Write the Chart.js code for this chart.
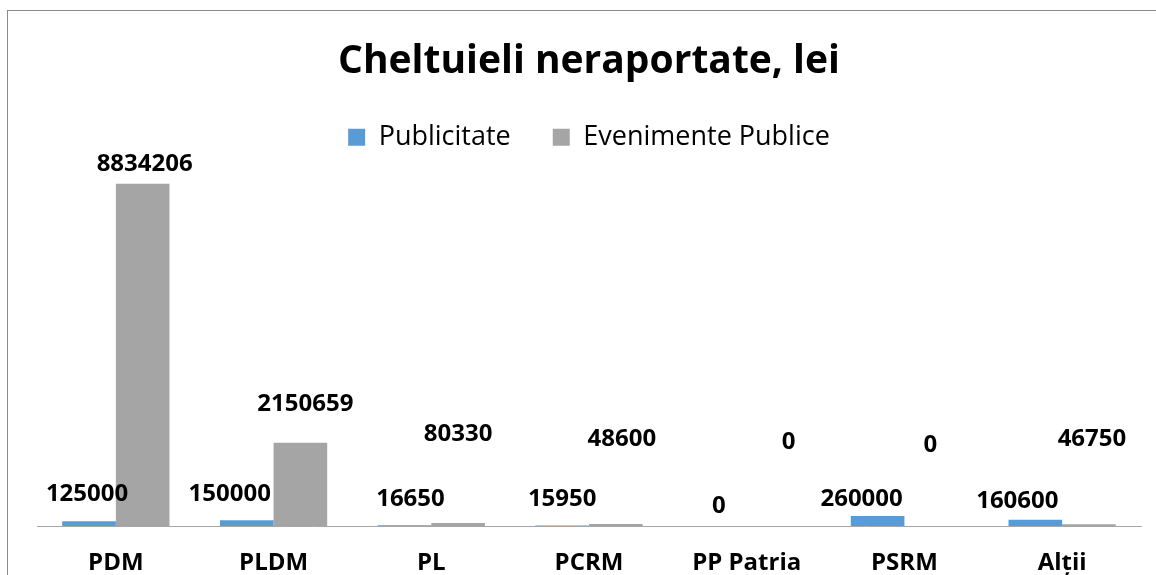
<!DOCTYPE html>
<html>
<head>
<meta charset="utf-8">
<script src="https://cdn.jsdelivr.net/npm/chart.js@4"></script>
<style>
    body { margin: 0; background: #fff; }
    #wrap { position: relative; width: 1156px; height: 575px; }
    #frame { position: absolute; left: 7px; top: 10px; right: -5px; bottom: -5px; border-left: 1px solid #8a8a8a; border-top: 1px solid #8a8a8a; }
    canvas { position: absolute; left: 0; top: 0; }
</style>
</head>
<body>
<div id="wrap">
    <div id="frame"></div>
    <canvas id="chart1" width="1156" height="575"></canvas>
</div>
<script>
const categories = ['PDM', 'PLDM', 'PL', 'PCRM', 'PP Patria', 'PSRM', 'Alții']
const publicitate = [125000, 150000, 16650, 15950, 0, 260000, 160600]
const evenimente = [8834206, 2150659, 80330, 48600, 0, 0, 46750]

// labels were moved by hand in the original, so keep their nudges (px) here
const labelNudge = [
    { dx: [-2, -17, 6, 0, -1, -16, -18], dy: [-27, -26, -26, -26, -20, -17, -19] },
    { dx: [2, 5, 0, 6, 15, -1, 3], dy: [-20, -39, -89, -85, -84, -81, -85] }
]

const font = "'Open Sans', 'DejaVu Sans', sans-serif"

const valueLabels = {
    id: 'valueLabels',
    afterDatasetsDraw(chart) {
        const ctx = chart.ctx
        ctx.save()
        ctx.font = 'bold 24px ' + font
        ctx.fillStyle = '#000'
        ctx.textAlign = 'center'
        ctx.textBaseline = 'middle'
        chart.data.datasets.forEach((ds, i) => {
            chart.getDatasetMeta(i).data.forEach((bar, j) => {
                const n = labelNudge[i]
                ctx.fillText(String(ds.data[j]), bar.x + n.dx[j], bar.y + n.dy[j])
            })
        })
        ctx.restore()
    }
}

const data = {
    labels: categories,
    datasets: [
        {
            label: 'Publicitate',
            data: publicitate,
            backgroundColor: '#5B9BD5',
            barPercentage: 1,
            categoryPercentage: 0.68
        },
        {
            label: 'Evenimente Publice',
            data: evenimente,
            backgroundColor: '#A5A5A5',
            barPercentage: 1,
            categoryPercentage: 0.68
        }
    ]
}

const options = {
    responsive: false,
    animation: false,
    layout: { padding: { top: 10, left: 37, right: 15, bottom: 0 } },
    plugins: {
        title: {
            display: true,
            text: 'Cheltuieli neraportate, lei',
            color: '#000',
            font: { family: font, size: 39, weight: 'bold' },
            padding: { top: 28, bottom: -3 }
        },
        legend: {
            position: 'top',
            labels: {
                color: '#000',
                font: { family: font, size: 27 },
                boxWidth: 17,
                boxHeight: 17,
                padding: 42
            }
        },
        tooltip: { enabled: false }
    },
    scales: {
        x: {
            grid: { display: false, drawTicks: false },
            border: { display: true, color: '#a6a6a6', width: 1 },
            ticks: {
                color: '#000',
                padding: 25,
                font: { family: font, size: 24, weight: 'bold', lineHeight: 1 }
            },
            afterFit(scale) {
                scale.height = 49
            }
        },
        y: {
            display: false,
            min: 0,
            max: 9428000
        }
    }
}

new Chart('chart1', { type: 'bar', data, options, plugins: [valueLabels] })
</script>
</body>
</html>
